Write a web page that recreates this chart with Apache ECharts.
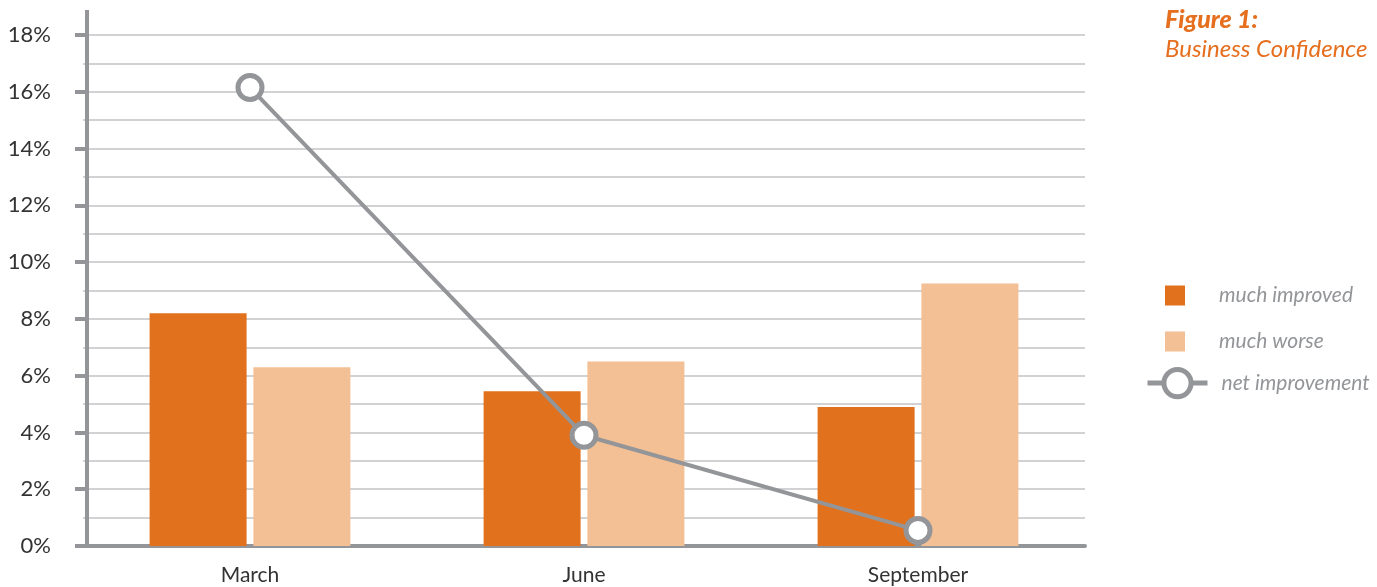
<!DOCTYPE html>
<html><head><meta charset="utf-8">
<script src="https://cdn.jsdelivr.net/npm/echarts@6/dist/echarts.min.js"></script>
<style>html,body{margin:0;padding:0;background:#fff}#c{width:1377px;height:587px}</style>
</head><body><div id="c"></div>
<script>
const categories = ['March', 'June', 'September'];
const muchImproved = [8.2, 5.45, 4.9];
const muchWorse = [6.3, 6.5, 9.25];
const netImprovement = [16.15, 3.9, 0.55];
const yTicks = [0, 2, 4, 6, 8, 10, 12, 14, 16, 18];

const FONT = 'Lato';
const chart = echarts.init(document.getElementById('c'), null, {renderer: 'canvas'});
chart.setOption({
  animation: false,
  backgroundColor: '#fff',
  title: {
    text: 'Figure 1:',
    subtext: 'Business Confidence',
    left: 1165, top: 7, itemGap: 5, padding: 0,
    textStyle: {color: '#e56f1f', fontFamily: FONT, fontSize: 25, fontWeight: 900, fontStyle: 'italic'},
    subtextStyle: {color: '#e56f1f', fontFamily: FONT, fontSize: 24, fontStyle: 'italic'}
  },
  grid: {left: 83, right: 292, top: 35, bottom: 41, containLabel: false},
  legend: [{
    data: ['much improved', 'much worse'],
    orient: 'vertical', left: 1165, top: 285, itemWidth: 20, itemHeight: 20, itemGap: 25, padding: 0,
    icon: 'rect',
    textStyle: {color: '#939598', fontFamily: FONT, fontSize: 21, fontStyle: 'italic', padding: [0, 0, 0, 29]}
  }, {
    data: ['net improvement'],
    orient: 'vertical', left: 1145, top: 367, itemWidth: 60, itemHeight: 34, padding: 0,
    lineStyle: {width: 5},
    itemStyle: {borderWidth: 5},
    textStyle: {color: '#939598', fontFamily: FONT, fontSize: 21, fontStyle: 'italic', padding: [0, 0, 0, 9]}
  }],
  xAxis: {
    type: 'category', data: categories,
    axisLine: {lineStyle: {color: '#939598', width: 4}},
    axisTick: {show: false},
    axisLabel: {color: '#333', fontFamily: FONT, fontSize: 21, margin: 19},
    splitLine: {show: false}
  },
  yAxis: {
    type: 'value', min: yTicks[0], max: yTicks[yTicks.length - 1], interval: 2, offset: -4,
    axisLine: {show: true, lineStyle: {color: '#939598', width: 4}},
    axisTick: {show: true, length: 12, lineStyle: {color: '#939598', width: 4}},
    axisLabel: {color: '#333', fontFamily: FONT, fontSize: 22, margin: 36, formatter: v => v + '%'},
    splitLine: {show: true, lineStyle: {color: '#d2d2d4', width: 2}},
    minorTick: {show: false, splitNumber: 2},
    minorSplitLine: {show: true, lineStyle: {color: '#d2d2d4', width: 2}}
  },
  graphic: [{
    type: 'line', shape: {x1: 87, y1: 10, x2: 87, y2: 36},
    style: {stroke: '#939598', lineWidth: 4}, z: 10
  }],
  series: [{
    name: 'much improved', type: 'bar', data: muchImproved, barWidth: 97, barGap: '7%',
    itemStyle: {color: '#e2711d'}, z: 2
  }, {
    name: 'much worse', type: 'bar', data: muchWorse, barWidth: 97,
    itemStyle: {color: '#f3bf94'}, z: 2
  }, {
    name: 'net improvement', type: 'line', data: netImprovement,
    symbol: 'circle', symbolSize: 24,
    lineStyle: {color: '#939598', width: 4},
    itemStyle: {color: '#fff', borderColor: '#939598', borderWidth: 5},
    z: 5
  }]
});
</script></body></html>
